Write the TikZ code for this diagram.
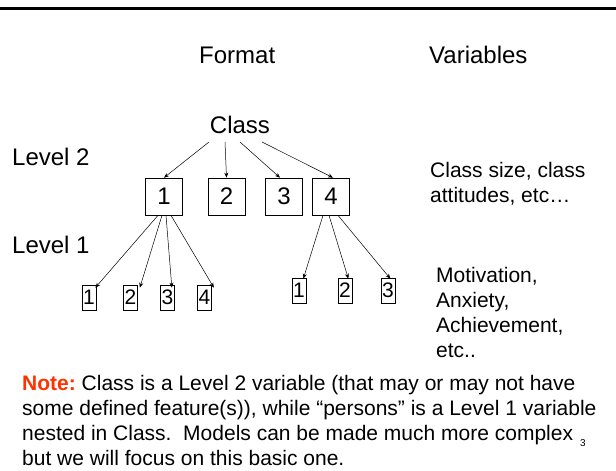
\documentclass[tikz,border=0pt]{standalone}
\usepackage{fontspec}
\setmainfont{Liberation Sans}
\usetikzlibrary{arrows.meta}
\definecolor{noteorange}{HTML}{FF3300}
\tikzset{
  big/.style={font=\fontsize{24}{28}\selectfont, inner sep=0pt},
  mid/.style={font=\fontsize{21}{25}\selectfont, inner sep=0pt, align=left, anchor=north west},
  boxtwo/.style={draw, line width=0.7pt, minimum width=37pt, minimum height=37pt, inner sep=0pt, font=\fontsize{24}{28}\selectfont},
  boxone/.style={draw, line width=0.7pt, minimum width=14pt, minimum height=25pt, inner sep=0pt, font=\fontsize{21}{25}\selectfont},
  link/.style={line width=0.5pt, -{Stealth[length=5pt,width=4pt]}}
}
\begin{document}
\frenchspacing
\begin{tikzpicture}[x=1pt,y=-1pt]
\useasboundingbox (0,0) rectangle (616,471);
\draw[line width=3pt] (0,8) -- (616,8);

\node[big, anchor=base west] (fmt) at (199,63) {Format};
\node[big, anchor=base west] (var) at (429,63) {Variables};
\node[big, anchor=base west] (lv2) at (12,165) {Level 2};
\node[big, anchor=base west] (lv1) at (12,253) {Level 1};
\node[big, anchor=base] (cls) at (240,133) {Class};

\node[boxtwo] (b1) at (164,196.5) {1};
\node[boxtwo] (b2) at (226.5,196.5) {2};
\node[boxtwo] (b3) at (284,196.5) {3};
\node[boxtwo] (b4) at (331,196.5) {4};

\node[boxone] (p1) at (89,297.5) {1};
\node[boxone] (p2) at (130.5,297.5) {2};
\node[boxone] (p3) at (167.5,297.5) {3};
\node[boxone] (p4) at (204.5,297.5) {4};
\node[boxone] (q1) at (299,290.5) {1};
\node[boxone] (q2) at (345,290.5) {2};
\node[boxone] (q3) at (388,290.5) {3};

\coordinate (c1) at (209,142);
\coordinate (c2) at (225,142);
\coordinate (c3) at (240,142);
\coordinate (c4) at (262,142);
\draw[link] (c1) -- (b1.north);
\draw[link] (c2) -- (b2.north);
\draw[link] (c3) -- ([xshift=-4pt]b3.north);
\draw[link] (c4) -- ([xshift=2pt]b4.north);

\draw[link] ([xshift=-6pt]b1.south) -- ([xshift=-1pt,yshift=-3pt]p1.north east);
\draw[link] ([xshift=-2pt]b1.south) -- ([xshift=2pt,yshift=-3pt]p2.north east);
\draw[link] ([xshift=2pt]b1.south) -- ([xshift=-3pt,yshift=-3pt]p3.north east);
\draw[link] ([xshift=7pt]b1.south) -- ([xshift=2pt,yshift=-3pt]p4.north east);

\draw[link] ([xshift=-8pt]b4.south) -- ([xshift=-3pt,yshift=-1pt]q1.north east);
\draw[link] ([xshift=-2pt]b4.south) -- ([xshift=-4pt,yshift=-1pt]q2.north east);
\draw[link] ([xshift=7pt]b4.south) -- ([xshift=-5pt,yshift=-1pt]q3.north east);

\node[mid] (v2) at (430,162) {Class size, class\\attitudes, etc…};
\node[mid] (v1) at (436,267) {Motivation,\\Anxiety,\\Achievement,\\etc..};

\node[mid] (note) at (22,375) {\textcolor{noteorange}{\textbf{Note:}} Class is a Level 2 variable (that may or may not have\\
some defined feature(s)), while “persons” is a Level 1 variable\\
nested in Class.\ \ Models can be made much more complex\\
but we will focus on this basic one.};
\node[font=\fontsize{10}{12}\selectfont, inner sep=0pt, anchor=base west] (pg) at (580,446) {3};
\end{tikzpicture}
\end{document}
